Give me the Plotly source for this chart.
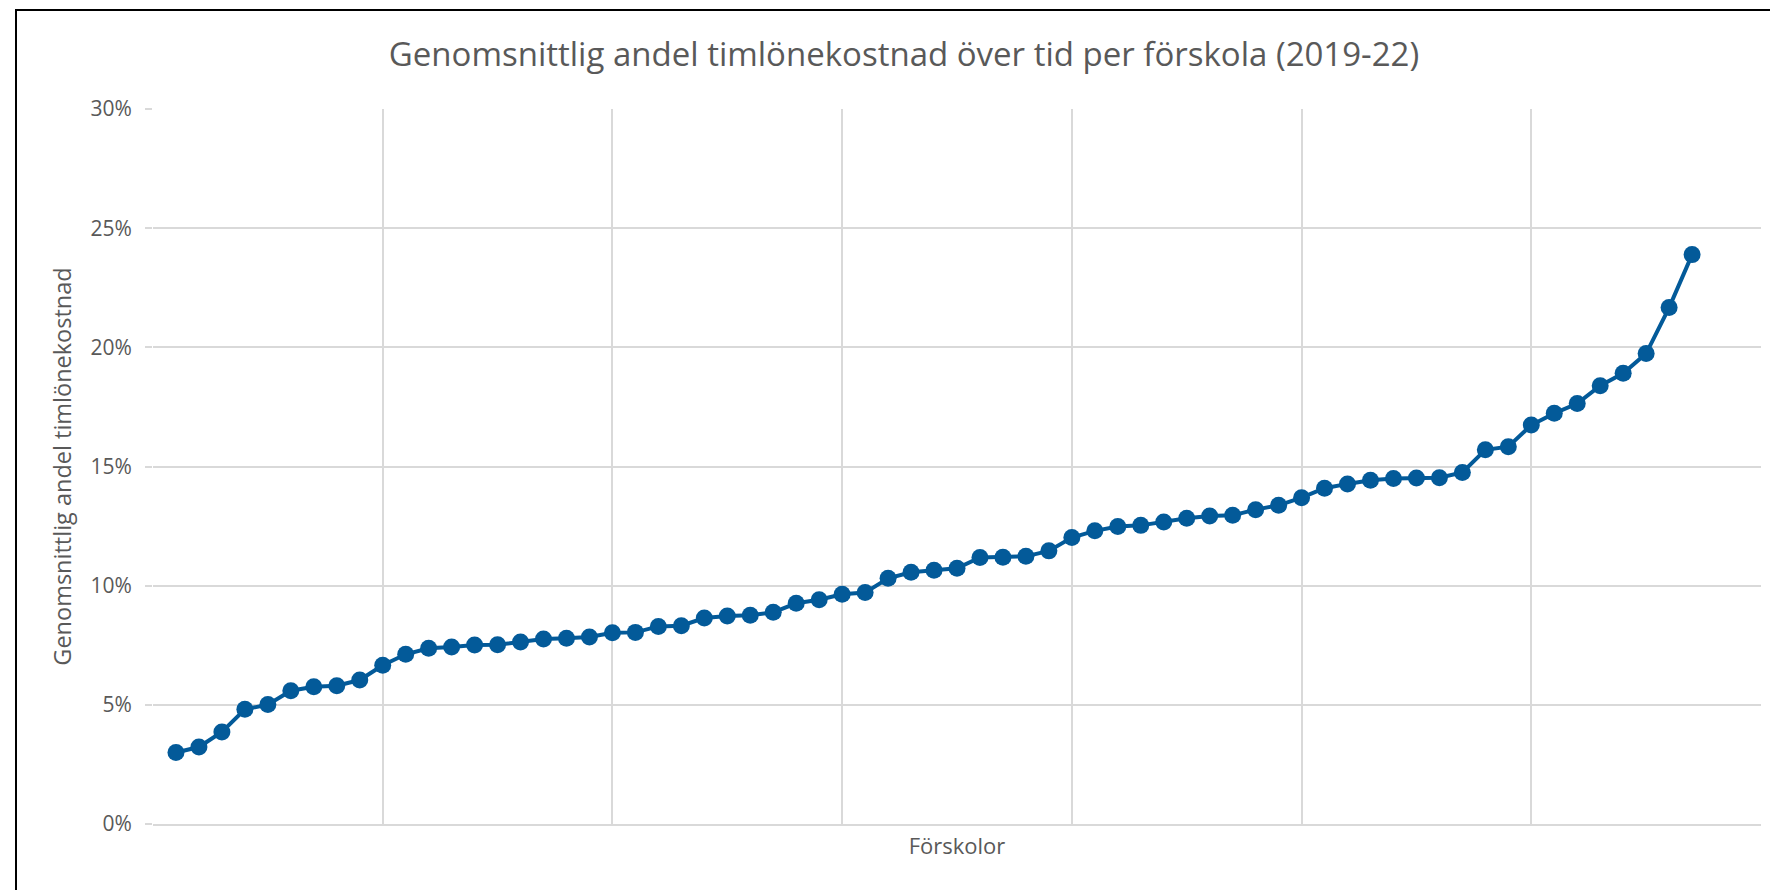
import plotly.graph_objects as go

# Förskolor, sorterade efter andel (x = löpnummer 1..67)
forskola_nr = list(range(1, 68))
andel_timlon = [
    0.0300, 0.0323, 0.0386, 0.0481, 0.0501, 0.0559, 0.0576, 0.0580, 0.0604, 0.0666,
    0.0712, 0.0737, 0.0743, 0.0751, 0.0752, 0.0764, 0.0776, 0.0779, 0.0785, 0.0802,
    0.0804, 0.0829, 0.0832, 0.0864, 0.0873, 0.0876, 0.0888, 0.0926, 0.0941, 0.0964,
    0.0971, 0.1031, 0.1056, 0.1065, 0.1073, 0.1118, 0.1119, 0.1123, 0.1146, 0.1202,
    0.1230, 0.1248, 0.1253, 0.1267, 0.1283, 0.1292, 0.1295, 0.1319, 0.1337, 0.1369,
    0.1409, 0.1427, 0.1442, 0.1450, 0.1452, 0.1453, 0.1475, 0.1570, 0.1583, 0.1674,
    0.1723, 0.1764, 0.1839, 0.1891, 0.1974, 0.2167, 0.2389,
]
y_ticks = [0, 0.05, 0.10, 0.15, 0.20, 0.25, 0.30]
y_tick_labels = ["0%", "5%", "10%", "15%", "20%", "25%", "30%"]

# sidan har 8px body-marginal, därav förskjutningen
W, H = 1778, 890
L, R, T, B = 145, 25, 101, 74
FONT = "Open Sans"
GREY = "#595959"
BLUE = "#035A99"
GRID = "#D9D9D9"

fig = go.Figure(go.Scatter(
    x=forskola_nr,
    y=andel_timlon,
    mode="lines+markers",
    line=dict(color=BLUE, width=4),
    marker=dict(color=BLUE, size=17),
    hoverinfo="skip",
))

# Ram runt diagrammet (paper-koordinater relativt plotytan)
pw, ph = W - L - R, H - T - B
fig.add_shape(
    type="rect", xref="paper", yref="paper",
    x0=(8 - L) / pw, x1=(W + 20 - L) / pw,
    y0=-(B + 20) / ph, y1=(H - 2 - B) / ph,
    line=dict(color="black", width=2),
)

fig.update_layout(
    width=W, height=H,
    margin=dict(l=L, r=R, t=T, b=B),
    paper_bgcolor="white",
    plot_bgcolor="white",
    showlegend=False,
    font=dict(family=FONT, color=GREY),
    title=dict(
        text="Genomsnittlig andel timlönekostnad över tid per förskola (2019-22)",
        x=896 / W, xanchor="center", xref="container",
        y=1 - 46 / H, yanchor="middle",
        font=dict(family=FONT, size=33, color=GREY),
    ),
    xaxis=dict(
        range=[0, 70], dtick=10, tick0=0,
        showticklabels=False,
        showgrid=True, gridcolor=GRID, gridwidth=1.5,
        zeroline=False, showline=True, linecolor=GRID, linewidth=1.5,
        title=dict(text="Förskolor", font=dict(family=FONT, size=22, color=GREY), standoff=14),
    ),
    yaxis=dict(
        range=[0, 0.30],
        tickvals=y_ticks, ticktext=y_tick_labels,
        ticks="outside", ticklen=7, tickcolor=GRID, tickwidth=1.5,
        ticklabelstandoff=9,
        tickfont=dict(family=FONT, size=21, color=GREY),
        showgrid=True, gridcolor=GRID, gridwidth=1.5,
        zeroline=False, showline=False,
        title=dict(text="Genomsnittlig andel timlönekostnad",
                   font=dict(family=FONT, size=23.5, color=GREY), standoff=12),
    ),
)

fig.write_html("out.html")
